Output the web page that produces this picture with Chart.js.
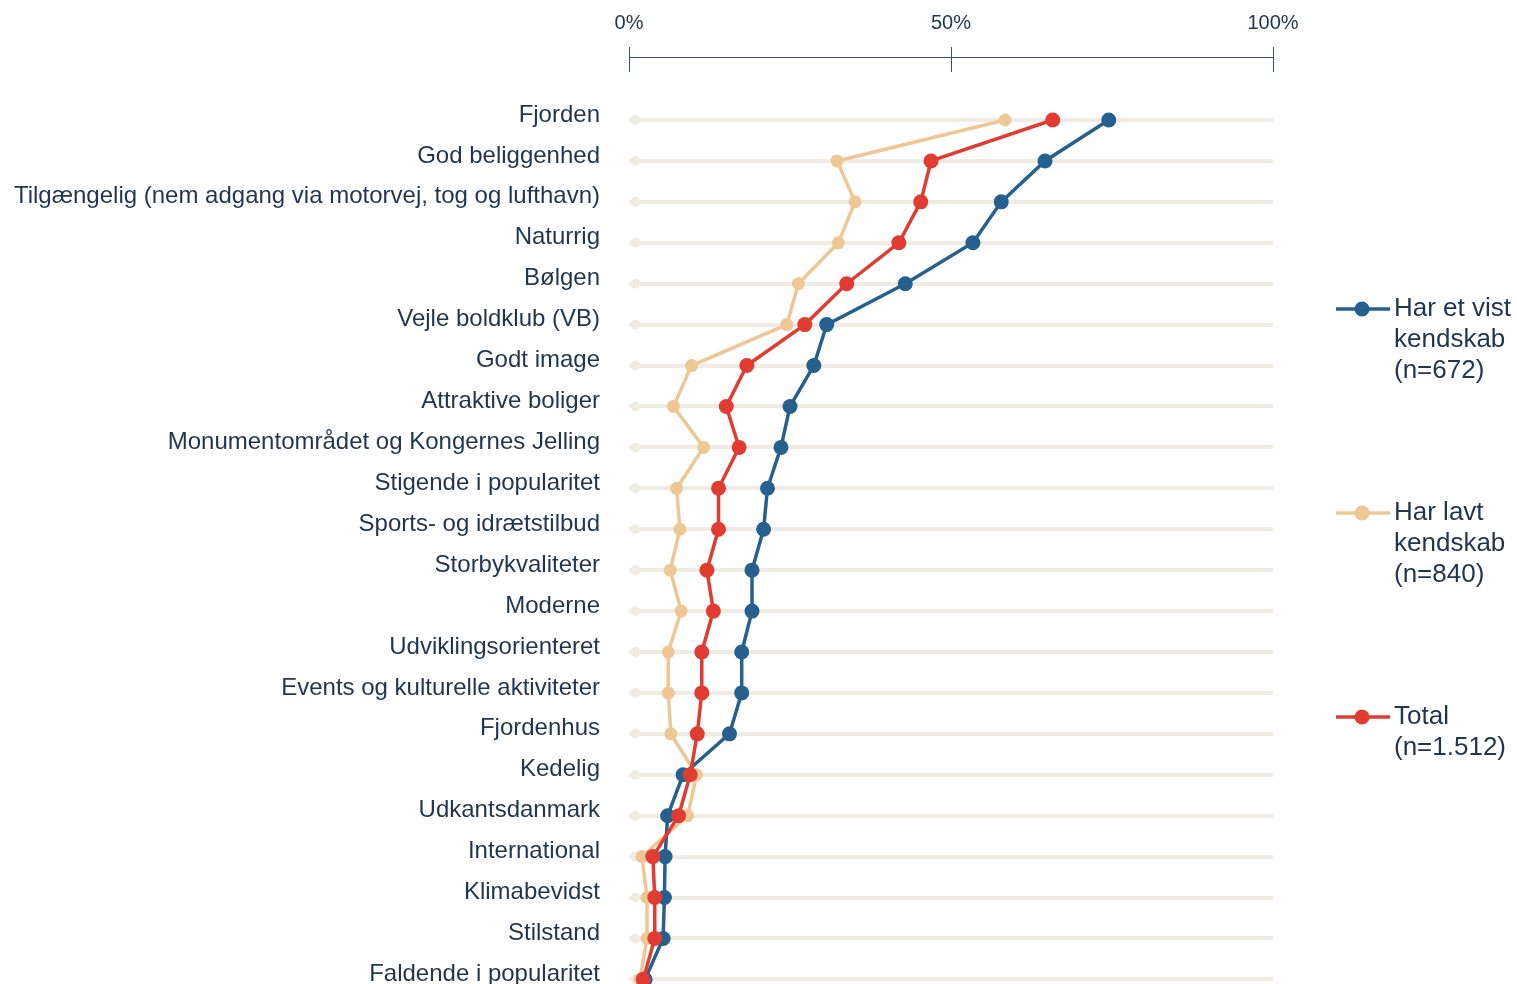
<!DOCTYPE html>
<html lang="da">
<head>
<meta charset="utf-8">
<title>Kendskab og association</title>
<script src="https://cdn.jsdelivr.net/npm/chart.js@4"></script>
<style>
  html, body { margin: 0; padding: 0; background: #fff; }
  #wrap { width: 1517px; height: 984px; position: relative; }
</style>
</head>
<body>
<div id="wrap"><canvas id="chart"></canvas></div>
<script>
// categories, top to bottom
const categories = [
    'Fjorden',
    'God beliggenhed',
    'Tilgængelig (nem adgang via motorvej, tog og lufthavn)',
    'Naturrig',
    'Bølgen',
    'Vejle boldklub (VB)',
    'Godt image',
    'Attraktive boliger',
    'Monumentområdet og Kongernes Jelling',
    'Stigende i popularitet',
    'Sports- og idrætstilbud',
    'Storbykvaliteter',
    'Moderne',
    'Udviklingsorienteret',
    'Events og kulturelle aktiviteter',
    'Fjordenhus',
    'Kedelig',
    'Udkantsdanmark',
    'International',
    'Klimabevidst',
    'Stilstand',
    'Faldende i popularitet'
];

// percentages
const harEtVist = [74.5, 64.6, 57.8, 53.4, 42.9, 30.7, 28.7, 25.0, 23.6, 21.5, 20.9, 19.1, 19.1, 17.5, 17.5, 15.6, 8.4, 6.0, 5.6, 5.5, 5.3, 2.5];
const harLavt = [58.4, 32.3, 35.1, 32.5, 26.3, 24.5, 9.7, 6.9, 11.6, 7.4, 7.9, 6.4, 8.1, 6.1, 6.1, 6.5, 10.5, 9.1, 2.0, 2.8, 2.8, 1.7];
const total = [65.8, 46.9, 45.3, 41.9, 33.8, 27.3, 18.3, 15.1, 17.1, 13.9, 13.9, 12.1, 13.1, 11.3, 11.3, 10.6, 9.5, 7.7, 3.7, 4.0, 4.0, 2.2];
// faint start dot on each row
const baseDots = [1, 1, 1, 1, 1, 1, 1, 1, 1, 1, 1, 1, 1, 1, 1, 1, 1, 1, 1, 1, 1, 1];

const xTicks = [0, 50, 100];

const legendLabels = [
    ['Har et vist', 'kendskab', '(n=672)'],
    ['Har lavt', 'kendskab', '(n=840)'],
    ['Total', '(n=1.512)']
];

const blue = '#25608f';
const beige = '#efc795';
const red = '#e03c31';
const faint = '#f0ebe3';
const textColor = '#1f3550';
const axisColor = '#3b4f63';
const fontFamily = '"Liberation Sans", Arial, sans-serif';

const toPoints = arr => arr.map((v, i) => ({ x: v, y: i }));

// legend on the right, drawn on the canvas
const sideLegend = {
    id: 'sideLegend',
    afterDraw(chart) {
        const ctx = chart.ctx;
        const colors = [blue, beige, red];
        const tops = [309, 513, 717];
        ctx.save();
        legendLabels.forEach((lines, i) => {
            const y = tops[i];
            ctx.strokeStyle = colors[i];
            ctx.lineWidth = 3.5;
            ctx.beginPath();
            ctx.moveTo(1336, y);
            ctx.lineTo(1390, y);
            ctx.stroke();
            ctx.fillStyle = colors[i];
            ctx.beginPath();
            ctx.arc(1362, y, 7.5, 0, Math.PI * 2);
            ctx.fill();
            ctx.fillStyle = textColor;
            ctx.font = '26px ' + fontFamily;
            ctx.textBaseline = 'middle';
            ctx.textAlign = 'left';
            lines.forEach((t, j) => ctx.fillText(t, 1394, y + j * 31));
        });
        ctx.restore();
    }
};

// the axis ticks cross the axis line a bit
const tickExtend = {
    id: 'tickExtend',
    afterDraw(chart) {
        const ctx = chart.ctx;
        const sx = chart.scales.x;
        const top = chart.chartArea.top;
        ctx.save();
        ctx.strokeStyle = axisColor;
        ctx.lineWidth = 1;
        xTicks.forEach(v => {
            const px = Math.round(sx.getPixelForValue(v)) + 0.5;
            ctx.beginPath();
            ctx.moveTo(px, top);
            ctx.lineTo(px, top + 15);
            ctx.stroke();
        });
        ctx.restore();
    }
};

const lineSet = (label, data, color, radius, order) => ({
    label: label,
    data: toPoints(data),
    borderColor: color,
    backgroundColor: color,
    borderWidth: 3.5,
    pointRadius: radius,
    pointHoverRadius: radius,
    pointBorderWidth: 0,
    pointBackgroundColor: color,
    tension: 0,
    clip: false,
    order: order
});

new Chart(document.getElementById('chart'), {
    type: 'line',
    data: {
        datasets: [
            lineSet('Total (n=1.512)', total, red, 7.5, 1),
            lineSet('Har et vist kendskab (n=672)', harEtVist, blue, 7.5, 2),
            lineSet('Har lavt kendskab (n=840)', harLavt, beige, 6.5, 3),
            {
                label: 'base',
                data: toPoints(baseDots),
                showLine: false,
                pointRadius: 5,
                pointHoverRadius: 5,
                pointBorderWidth: 0,
                pointBackgroundColor: faint,
                clip: false,
                order: 4
            }
        ]
    },
    options: {
        indexAxis: 'y',
        responsive: true,
        maintainAspectRatio: false,
        animation: false,
        layout: { padding: { left: 0, right: 244, top: 0, bottom: 0 } },
        plugins: {
            legend: { display: false },
            tooltip: { enabled: true }
        },
        scales: {
            x: {
                type: 'linear',
                position: 'top',
                min: 0,
                max: 100,
                afterBuildTicks: axis => { axis.ticks = xTicks.map(v => ({ value: v })); },
                afterFit: axis => { axis.height = 57; },
                ticks: {
                    callback: v => v + '%',
                    color: textColor,
                    font: { family: fontFamily, size: 20 },
                    padding: 12,
                    maxRotation: 0
                },
                grid: {
                    drawOnChartArea: false,
                    drawTicks: true,
                    tickLength: 10,
                    color: axisColor,
                    lineWidth: 1
                },
                border: { display: true, color: axisColor, width: 1 }
            },
            y: {
                type: 'linear',
                reverse: true,
                min: -1.54,
                max: 20.93,
                afterBuildTicks: axis => { axis.ticks = categories.map((c, i) => ({ value: i })); },
                afterFit: axis => {
                    axis.width = 629;
                    axis.paddingTop = 0;
                    axis.paddingBottom = 0;
                },
                ticks: {
                    autoSkip: false,
                    callback: v => categories[v] || '',
                    color: textColor,
                    font: { family: fontFamily, size: 24 },
                    padding: 29,
                    labelOffset: -5
                },
                grid: {
                    drawTicks: false,
                    color: faint,
                    lineWidth: 4
                },
                border: { display: false }
            }
        }
    },
    plugins: [sideLegend, tickExtend]
});
</script>
</body>
</html>
